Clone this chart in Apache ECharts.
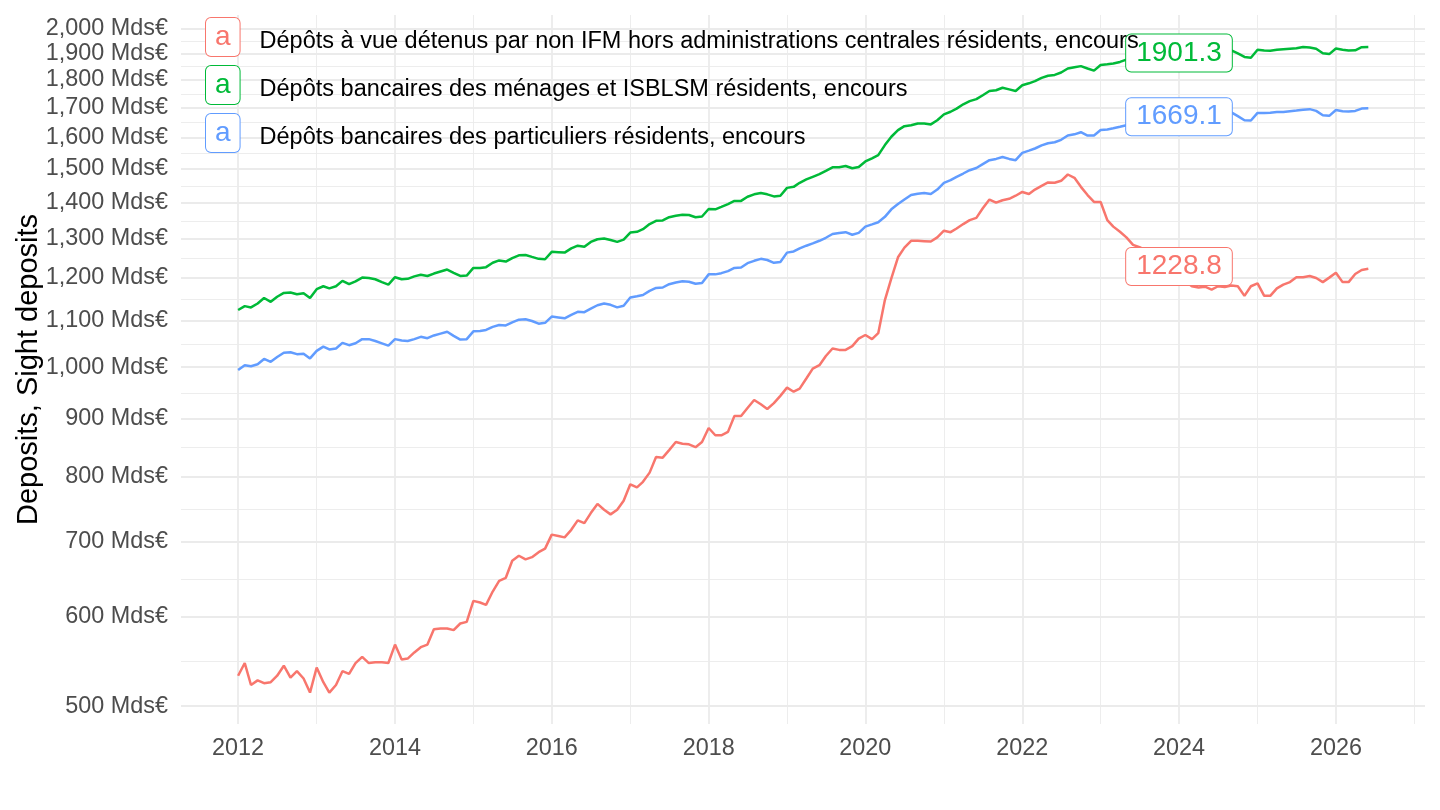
<!DOCTYPE html>
<html>
<head>
<meta charset="utf-8">
<script src="https://cdn.jsdelivr.net/npm/echarts@6.0.0/dist/echarts.min.js"></script>
<style>
html, body { margin: 0; padding: 0; background: #fff; }
#main { width: 1440px; height: 810px; }
</style>
</head>
<body>
<div id="main"></div>
<script>
// series names, in legend order
var seriesNames = [
    'Dépôts à vue détenus par non IFM hors administrations centrales résidents, encours',
    'Dépôts bancaires des ménages et ISBLSM résidents, encours',
    'Dépôts bancaires des particuliers résidents, encours'
];
var seriesColors = ['#F8766D', '#00BA38', '#619CFF'];

// monthly values, Mds€, from 2012-01
var startYear = 2012;
var vueNonIFM = [
    532, 546, 522, 527, 524, 525, 532, 543, 530, 537, 529, 514,
    541, 525, 514, 522, 537, 534, 546, 553, 546, 547, 547, 546,
    567, 550, 551, 558, 564, 567, 585, 586, 586, 584, 592, 594,
    620, 618, 615, 632, 646, 650, 673, 680, 675, 678, 685, 690,
    710, 708, 706, 717, 731, 727, 742, 756, 747, 740, 747, 761,
    787, 782, 791, 806, 832, 831, 844, 858, 855, 854, 849, 858,
    883, 870, 870, 876, 905, 905, 920, 935, 927, 918, 929, 943,
    959, 951, 957, 977, 997, 1004, 1023, 1039, 1036, 1036, 1044, 1060,
    1068, 1059, 1072, 1147, 1199, 1252, 1277, 1295, 1295, 1294, 1293, 1304,
    1322, 1318, 1328, 1340, 1351, 1357, 1384, 1409, 1400, 1407, 1411, 1420,
    1431, 1425, 1438, 1449, 1459, 1458, 1464, 1483, 1473, 1446, 1422, 1402,
    1402, 1351, 1333, 1319, 1304, 1284, 1278, 1270, 1262, 1250, 1240, 1234,
    1228.8, 1192, 1180, 1177, 1179, 1172, 1180, 1178, 1182, 1180, 1157, 1180,
    1187, 1157, 1157, 1175, 1184, 1190, 1202, 1202, 1205, 1200, 1190, 1201,
    1213, 1190, 1190, 1210, 1220, 1223
];
var menagesISBLSM = [
    1124, 1133, 1130, 1139, 1152, 1143, 1155, 1164, 1165, 1161, 1163, 1152,
    1173, 1180, 1175, 1180, 1193, 1185, 1192, 1201, 1200, 1197, 1190, 1184,
    1202, 1197, 1198, 1204, 1208, 1205, 1211, 1216, 1221, 1213, 1205, 1206,
    1225, 1225, 1227, 1238, 1244, 1241, 1250, 1257, 1258, 1253, 1248, 1247,
    1266, 1265, 1264, 1275, 1282, 1279, 1292, 1299, 1301, 1297, 1292, 1298,
    1317, 1319, 1326, 1340, 1349, 1350, 1359, 1363, 1366, 1365, 1359, 1361,
    1382, 1381, 1388, 1396, 1405, 1405, 1417, 1424, 1428, 1424, 1418, 1420,
    1443, 1446, 1458, 1468, 1476, 1484, 1494, 1505, 1505, 1509, 1502, 1506,
    1523, 1533, 1543, 1575, 1602, 1624, 1637, 1640, 1646, 1646, 1643, 1657,
    1677, 1686, 1697, 1712, 1723, 1730, 1744, 1759, 1762, 1771, 1765, 1759,
    1780, 1787, 1795, 1807, 1815, 1818, 1827, 1842, 1847, 1851, 1842, 1834,
    1855, 1858, 1861, 1867, 1876, 1872, 1880, 1884, 1887, 1890, 1894, 1898,
    1901.3, 1905, 1909, 1906, 1911, 1914, 1917, 1919, 1912, 1900, 1886, 1883,
    1914, 1911, 1910, 1914, 1916, 1918, 1920, 1925, 1923, 1918, 1900, 1897,
    1919, 1914, 1911, 1912, 1924, 1925
];
var particuliers = [
    994, 1004, 1002, 1006, 1017, 1011, 1021, 1030, 1031, 1027, 1028, 1018,
    1034, 1043, 1037, 1039, 1051, 1046, 1050, 1059, 1059, 1055, 1050, 1045,
    1059, 1056, 1055, 1059, 1064, 1061, 1067, 1071, 1075, 1066, 1058, 1059,
    1076, 1077, 1079, 1086, 1090, 1089, 1096, 1102, 1103, 1099, 1093, 1095,
    1109, 1107, 1105, 1113, 1120, 1119, 1127, 1135, 1139, 1136, 1130, 1134,
    1153, 1156, 1159, 1169, 1176, 1177, 1185, 1189, 1192, 1191, 1186, 1188,
    1209, 1209, 1212, 1217, 1225, 1226, 1237, 1243, 1248, 1245, 1238, 1240,
    1264, 1267, 1275, 1282, 1288, 1295, 1303, 1313, 1316, 1318, 1311, 1316,
    1333, 1339, 1345, 1360, 1381, 1396, 1409, 1422, 1426, 1428, 1425, 1438,
    1458, 1466, 1476, 1486, 1496, 1503, 1515, 1527, 1531, 1537, 1531, 1527,
    1550, 1557, 1564, 1574, 1581, 1584, 1592, 1606, 1610, 1617, 1606, 1606,
    1624, 1626, 1630, 1635, 1640, 1644, 1650, 1648, 1655, 1660, 1658, 1665,
    1669.1, 1675, 1680, 1678, 1683, 1686, 1688, 1690, 1684, 1671, 1657, 1656,
    1682, 1682, 1683, 1685, 1685, 1688, 1690, 1693, 1695, 1689, 1674, 1672,
    1692, 1688, 1687, 1689, 1697, 1698
];

// end labels
var labelYear = 2024;
var labelValues = [1228.8, 1901.3, 1669.1];

// axes
var yTicks = [500, 600, 700, 800, 900, 1000, 1100, 1200, 1300, 1400, 1500, 1600, 1700, 1800, 1900, 2000];
var xTickYears = [2012, 2014, 2016, 2018, 2020, 2022, 2024, 2026];
var xMinorYears = [2013, 2015, 2017, 2019, 2021, 2023, 2025, 2027];

var fontFamily = '"Liberation Sans", Arial, sans-serif';

function toSeries(values) {
    var out = [];
    for (var i = 0; i < values.length; i++) {
        out.push([Date.UTC(startYear, i, 1), values[i]]);
    }
    return out;
}

function fmtMds(v) {
    var s = String(Math.round(v)).replace(/\B(?=(\d{3})+(?!\d))/g, ',');
    return s + ' Mds€';
}

// grid lines drawn as markLines (log axis, ggplot style major/minor)
var gridLines = [];
yTicks.forEach(function (v, i) {
    gridLines.push({ yAxis: v, lineStyle: { color: '#EBEBEB', width: 1.8, type: 'solid' } });
    if (i > 0) {
        gridLines.push({ yAxis: Math.sqrt(v * yTicks[i - 1]), lineStyle: { color: '#EBEBEB', width: 0.9, type: 'solid' } });
    }
});
xTickYears.forEach(function (y) {
    gridLines.push({ xAxis: Date.UTC(y, 0, 1), lineStyle: { color: '#EBEBEB', width: 1.8, type: 'solid' } });
});
xMinorYears.forEach(function (y) {
    gridLines.push({ xAxis: Date.UTC(y, 0, 1), lineStyle: { color: '#EBEBEB', width: 0.9, type: 'solid' } });
});

var allValues = [vueNonIFM, menagesISBLSM, particuliers];

var series = [{
    name: 'grid',
    type: 'line',
    data: [],
    z: 0,
    silent: true,
    markLine: {
        silent: true,
        animation: false,
        z: 0,
        symbol: ['none', 'none'],
        label: { show: false },
        emphasis: { disabled: true },
        data: gridLines
    }
}];

for (var i = 0; i < seriesNames.length; i++) {
    var c = seriesColors[i];
    series.push({
        name: seriesNames[i],
        type: 'line',
        data: toSeries(allValues[i]),
        showSymbol: false,
        symbol: 'none',
        z: 3,
        lineStyle: { color: c, width: 2.5 },
        itemStyle: { color: c },
        markPoint: {
            silent: true,
            animation: false,
            z: 6,
            symbol: 'rect',
            symbolSize: 0,
            data: [{ coord: [Date.UTC(labelYear, 0, 1), labelValues[i]], value: labelValues[i] }],
            label: {
                show: true,
                position: 'inside',
                formatter: '{c}',
                color: c,
                fontSize: 28,
                fontFamily: fontFamily,
                backgroundColor: '#fff',
                borderColor: c,
                borderWidth: 1,
                borderRadius: 5,
                padding: [5, 10, 4, 10]
            }
        }
    });
}

var rich = {
    t: { color: '#000', fontSize: 23.5, fontFamily: fontFamily, padding: [9, 0, 0, 20] }
};
seriesColors.forEach(function (c, i) {
    rich['k' + i] = {
        color: c, fontSize: 28, fontFamily: fontFamily, lineHeight: 28,
        borderColor: c, borderWidth: 1, borderRadius: 5,
        padding: [5, 9, 5, 9], backgroundColor: '#fff'
    };
});

var option = {
    animation: false,
    backgroundColor: '#fff',
    textStyle: { fontFamily: fontFamily },
    grid: { left: 181, right: 15, top: 15, bottom: 86, containLabel: false, outerBoundsMode: 'none' },
    legend: {
        data: seriesNames,
        orient: 'vertical',
        left: 200,
        top: 17,
        z: 10,
        padding: 0,
        itemGap: 8,
        itemWidth: 0,
        itemHeight: 0,
        selectedMode: false,
        formatter: function (name) {
            return '{k' + seriesNames.indexOf(name) + '|a}{t|' + name + '}';
        },
        textStyle: { rich: rich }
    },
    xAxis: {
        // timestamps on a plain value axis
        type: 'value',
        min: Date.UTC(2011, 3, 10),
        max: Date.UTC(2027, 1, 20),
        axisLine: { show: false },
        axisTick: { show: false },
        splitLine: { show: false },
        axisLabel: {
            customValues: xTickYears.map(function (y) { return Date.UTC(y, 0, 1); }),
            formatter: function (v) { return String(new Date(v).getUTCFullYear()); },
            color: '#4D4D4D',
            fontSize: 23.4,
            margin: 13
        }
    },
    yAxis: {
        type: 'log',
        logBase: 10,
        min: 482,
        max: 2055,
        axisLine: { show: false },
        axisTick: { show: false },
        splitLine: { show: false },
        minorSplitLine: { show: false },
        axisLabel: {
            customValues: yTicks,
            formatter: fmtMds,
            color: '#4D4D4D',
            fontSize: 23.4,
            margin: 13
        },
        name: 'Deposits, Sight deposits',
        nameLocation: 'middle',
        nameGap: 138,
        nameMoveOverlap: false,
        nameTextStyle: { fontSize: 29, color: '#000' }
    },
    series: series
};

echarts.init(document.getElementById('main')).setOption(option);
</script>
</body>
</html>
